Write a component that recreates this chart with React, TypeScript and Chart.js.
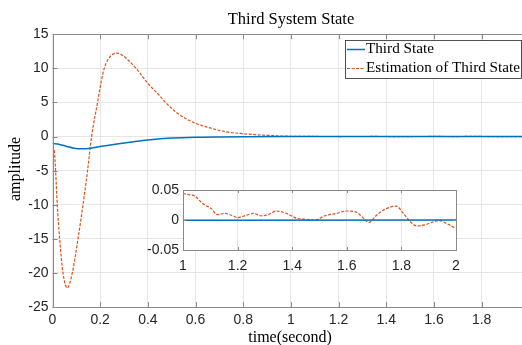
import React, { useEffect, useRef } from "react";
import { Chart, registerables } from "chart.js";
Chart.register(...registerables);

// ---- data ----
const stateTime = [0, 0.03, 0.06, 0.09, 0.122, 0.16, 0.2, 0.27, 0.34, 0.41, 0.5, 0.6, 0.7, 0.8, 1.0, 1.5, 2.0];
const stateValues = [-1.0, -1.15, -1.45, -1.7, -1.8, -1.7, -1.45, -1.08, -0.75, -0.45, -0.22, -0.1, -0.05, -0.02, 0, 0, 0];

const estTime = [0.008, 0.013, 0.02, 0.03, 0.044, 0.062, 0.083, 0.107, 0.128, 0.147, 0.164, 0.19, 0.203, 0.217, 0.231, 0.25, 0.269, 0.29, 0.318, 0.36, 0.4, 0.444, 0.472, 0.514, 0.556, 0.6, 0.668, 0.724, 0.8, 0.9];
const estValues = [-2.0, -5, -10, -15, -20, -22.2, -20, -15, -10, -5, 0, 5.2, 7.8, 10, 11.2, 12.0, 12.25, 12.0, 11.2, 9.6, 7.8, 6.2, 5.1, 3.7, 2.7, 1.95, 1.2, 0.72, 0.42, 0.18];

const insetTime = [1.0, 1.024, 1.043, 1.073, 1.104, 1.125, 1.153, 1.177, 1.202, 1.232, 1.257, 1.287, 1.312, 1.342, 1.379, 1.416, 1.452, 1.483, 1.52, 1.562, 1.599, 1.636, 1.654, 1.682, 1.709, 1.74, 1.782, 1.807, 1.831, 1.856, 1.886, 1.917, 1.941, 1.966, 1.996];
const insetEstimate = [0.044, 0.042, 0.04, 0.027, 0.019, 0.009, 0.011, 0.008, 0.004, 0.008, 0.011, 0.007, 0.009, 0.015, 0.011, 0.003, 0.001, 0.0, 0.007, 0.011, 0.015, 0.013, 0.006, -0.004, 0.008, 0.018, 0.023, 0.011, -0.002, -0.01, -0.008, -0.003, -0.001, -0.006, -0.013];
const insetStateTime = [1.0, 2.0];
const insetStateValues = [-0.0005, 0];

const xTickValues = [0, 0.2, 0.4, 0.6, 0.8, 1, 1.2, 1.4, 1.6, 1.8];
const xTickLabels = ["0", "0.2", "0.4", "0.6", "0.8", "1", "1.2", "1.4", "1.6", "1.8"];
const yTickValues = [-25, -20, -15, -10, -5, 0, 5, 10, 15];
const yTickLabels = ["-25", "-20", "-15", "-10", "-5", "0", "5", "10", "15"];
const insetXTickValues = [1, 1.2, 1.4, 1.6, 1.8, 2];
const insetXTickLabels = ["1", "1.2", "1.4", "1.6", "1.8", "2"];
const insetYTickValues = [-0.05, 0, 0.05];
const insetYTickLabels = ["-0.05", "0", "0.05"];

const titleText = "Third System State";
const xLabel = "time(second)";
const yLabel = "amplitude";
const legendLabels = ["Third State", "Estimation of Third State"];

const BLUE = "#0072BD";
const ORANGE = "#D95319";
const GRID = "#e6e6e6";
const FRAME = "#8a8a8a";
const TICKC = "#262626";
const SERIF = "'Liberation Serif', 'DejaVu Serif', serif";
const SANS = "'Liberation Sans', Arial, sans-serif";

const zip = (xs: number[], ys: number[]) => xs.map((x, i) => ({ x, y: ys[i] }));

function frameWithTicks(chart: any, xs: number[], ys: number[], len: number) {
  const { ctx, chartArea: a, scales } = chart;
  ctx.save();
  ctx.strokeStyle = FRAME;
  ctx.lineWidth = 1;
  ctx.beginPath();
  xs.forEach((v) => {
    const px = Math.round(scales.x.getPixelForValue(v)) + 0.5;
    ctx.moveTo(px, a.bottom);
    ctx.lineTo(px, a.bottom - len);
    ctx.moveTo(px, a.top);
    ctx.lineTo(px, a.top + len);
  });
  ys.forEach((v) => {
    const py = Math.round(scales.y.getPixelForValue(v)) + 0.5;
    ctx.moveTo(a.left, py);
    ctx.lineTo(a.left + len, py);
    ctx.moveTo(a.right, py);
    ctx.lineTo(a.right - len, py);
  });
  ctx.stroke();
  ctx.strokeRect(Math.round(a.left) + 0.5, Math.round(a.top) + 0.5, Math.round(a.right - a.left), Math.round(a.bottom - a.top));
  ctx.restore();
}

export default function App() {
  const mainRef = useRef<HTMLCanvasElement>(null);
  const insetRef = useRef<HTMLCanvasElement>(null);

  useEffect(() => {
    const mainPlugin = {
      id: "mainDeco",
      afterDraw(chart: any) {
        frameWithTicks(chart, xTickValues, yTickValues, 5);
        const { ctx } = chart;
        ctx.save();
        ctx.fillStyle = "#000";
        ctx.textAlign = "center";
        ctx.textBaseline = "middle";
        ctx.font = `16.5px ${SERIF}`;
        ctx.fillText(titleText, 291, 20);
        ctx.font = `16px ${SERIF}`;
        ctx.fillText(xLabel, 290, 338);
        ctx.translate(16, 169);
        ctx.rotate(-Math.PI / 2);
        ctx.fillText(yLabel, 0, 0);
        ctx.restore();
        // legend
        ctx.save();
        ctx.fillStyle = "#fff";
        ctx.fillRect(345.5, 40.5, 176, 38);
        ctx.strokeStyle = "#262626";
        ctx.lineWidth = 0.8;
        ctx.strokeRect(345.5, 40.5, 176, 38);
        ctx.lineWidth = 1.5;
        ctx.strokeStyle = BLUE;
        ctx.beginPath();
        ctx.moveTo(347, 49.5);
        ctx.lineTo(365, 49.5);
        ctx.stroke();
        ctx.strokeStyle = ORANGE;
        ctx.lineWidth = 1.2;
        ctx.setLineDash([3, 1.5]);
        ctx.beginPath();
        ctx.moveTo(347, 68.5);
        ctx.lineTo(365, 68.5);
        ctx.stroke();
        ctx.setLineDash([]);
        ctx.fillStyle = "#000";
        ctx.textAlign = "left";
        ctx.textBaseline = "middle";
        ctx.font = `15.2px ${SERIF}`;
        ctx.fillText(legendLabels[0], 366, 49.5);
        ctx.fillText(legendLabels[1], 366, 68.5);
        ctx.restore();
      },
    };

    const main = new Chart(mainRef.current!, {
      type: "scatter",
      data: {
        datasets: [
          {
            label: legendLabels[0],
            data: zip(stateTime, stateValues),
            showLine: true,
            borderColor: BLUE,
            borderWidth: 1.5,
            pointRadius: 0,
            cubicInterpolationMode: "monotone",
          },
          {
            label: legendLabels[1],
            data: zip(estTime.concat(insetTime), estValues.concat(insetEstimate)),
            showLine: true,
            borderColor: ORANGE,
            borderWidth: 1.2,
            borderDash: [3, 1.5],
            pointRadius: 0,
            cubicInterpolationMode: "monotone",
          },
        ],
      },
      options: {
        responsive: false,
        animation: false,
        devicePixelRatio: 1,
        layout: { padding: { top: 34.3, right: 2.7, left: 0, bottom: 0 } },
        plugins: { legend: { display: false }, tooltip: { enabled: false }, title: { display: false } },
        scales: {
          x: {
            type: "linear",
            min: 0,
            max: 2,
            afterBuildTicks: (s: any) => { s.ticks = xTickValues.map((v) => ({ value: v })); },
            afterFit: (s: any) => { s.height = 38; },
            ticks: {
              autoSkip: false,
              maxRotation: 0,
              padding: 5,
              color: TICKC,
              font: { family: SANS, size: 14 },
              callback: (v: any) => { const i = xTickValues.indexOf(Number(v)); return i >= 0 ? xTickLabels[i] : ""; },
            },
            grid: { color: GRID, drawTicks: false, lineWidth: 1 },
            border: { display: false },
          },
          y: {
            type: "linear",
            min: -25,
            max: 15,
            afterBuildTicks: (s: any) => { s.ticks = yTickValues.map((v) => ({ value: v })); },
            afterFit: (s: any) => { s.width = 52.5; },
            ticks: {
              autoSkip: false,
              padding: 4,
              color: TICKC,
              font: { family: SANS, size: 14 },
              callback: (v: any) => { const i = yTickValues.indexOf(Number(v)); return i >= 0 ? yTickLabels[i] : ""; },
            },
            grid: { color: GRID, drawTicks: false, lineWidth: 1 },
            border: { display: false },
          },
        },
      },
      plugins: [mainPlugin],
    } as any);

    const insetPlugin = {
      id: "insetDeco",
      beforeDraw(chart: any) {
        const { ctx, chartArea: a } = chart;
        ctx.save();
        ctx.fillStyle = "#fff";
        ctx.fillRect(a.left, a.top, a.right - a.left, a.bottom - a.top);
        ctx.restore();
      },
      afterDraw(chart: any) {
        frameWithTicks(chart, insetXTickValues, insetYTickValues, 3);
      },
    };

    const inset = new Chart(insetRef.current!, {
      type: "scatter",
      data: {
        datasets: [
          {
            data: zip(insetStateTime, insetStateValues),
            showLine: true,
            borderColor: BLUE,
            borderWidth: 1.5,
            pointRadius: 0,
          },
          {
            data: zip(insetTime, insetEstimate),
            showLine: true,
            borderColor: ORANGE,
            borderWidth: 1.2,
            borderDash: [3, 1.5],
            pointRadius: 0,
            cubicInterpolationMode: "monotone",
          },
        ],
      },
      options: {
        responsive: false,
        animation: false,
        devicePixelRatio: 1,
        layout: { padding: { top: 20, right: 14, left: 0, bottom: 0 } },
        plugins: { legend: { display: false }, tooltip: { enabled: false } },
        scales: {
          x: {
            type: "linear",
            min: 1,
            max: 2,
            afterBuildTicks: (s: any) => { s.ticks = insetXTickValues.map((v) => ({ value: v })); },
            afterFit: (s: any) => { s.height = 30; },
            ticks: {
              autoSkip: false,
              maxRotation: 0,
              padding: 8,
              color: TICKC,
              font: { family: SANS, size: 14 },
              callback: (v: any) => { const i = insetXTickValues.findIndex((t) => Math.abs(t - Number(v)) < 1e-9); return i >= 0 ? insetXTickLabels[i] : ""; },
            },
            grid: { color: GRID, drawTicks: false },
            border: { display: false },
          },
          y: {
            type: "linear",
            min: -0.05,
            max: 0.05,
            afterBuildTicks: (s: any) => { s.ticks = insetYTickValues.map((v) => ({ value: v })); },
            afterFit: (s: any) => { s.width = 63; },
            ticks: {
              autoSkip: false,
              padding: 4,
              color: TICKC,
              font: { family: SANS, size: 14 },
              callback: (v: any) => { const i = insetYTickValues.findIndex((t) => Math.abs(t - Number(v)) < 1e-9); return i >= 0 ? insetYTickLabels[i] : ""; },
            },
            grid: { color: GRID, drawTicks: false },
            border: { display: false },
          },
        },
      },
      plugins: [insetPlugin],
    } as any);

    return () => {
      main.destroy();
      inset.destroy();
    };
  }, []);

  return (
    <div style={{ position: "absolute", left: 0, top: 0, width: 522, height: 345, overflow: "hidden", background: "#fff" }}>
      <canvas ref={mainRef} width={532} height={345} style={{ position: "absolute", left: 0, top: 0, width: 532, height: 345 }} />
      <canvas ref={insetRef} width={350} height={110} style={{ position: "absolute", left: 120, top: 170, width: 350, height: 110 }} />
    </div>
  );
}
